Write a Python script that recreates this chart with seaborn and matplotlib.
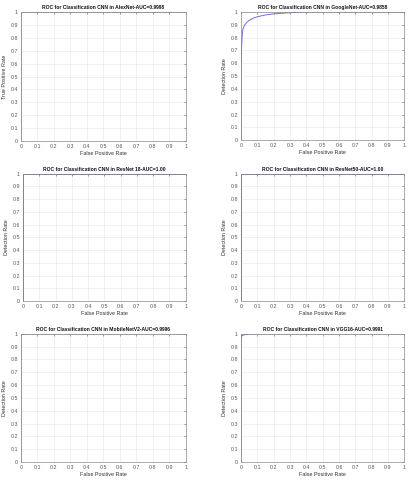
import numpy as np
import pandas as pd
import matplotlib
matplotlib.use("Agg")
import matplotlib.pyplot as plt
import seaborn as sns

models = ["AlexNet", "GoogleNet", "ResNet 18", "ResNet50", "MobileNetV2", "VGG16"]
auc_labels = ["0.9998", "0.9858", "1.00", "1.00", "0.9996", "0.9991"]
ylabels = ["True Positive Rate", "Detection Rate", "Detection Rate",
           "Detection Rate", "Detection Rate", "Detection Rate"]

fpr_alexnet = [0.0, 0.0, 0.002, 1.0]
tpr_alexnet = [0.0, 0.99, 1.0, 1.0]
fpr_googlenet = [0.0, 0.0, 0.003, 0.006, 0.01, 0.02, 0.035, 0.05, 0.08, 0.1, 0.15, 0.2, 0.3, 0.4, 1.0]
tpr_googlenet = [0.0, 0.5, 0.72, 0.8, 0.86, 0.895, 0.92, 0.935, 0.955, 0.963, 0.977, 0.985, 0.995, 1.0, 1.0]
fpr_resnet18 = [0.0, 0.0, 1.0]
tpr_resnet18 = [0.0, 1.0, 1.0]
fpr_resnet50 = [0.0, 0.0, 1.0]
tpr_resnet50 = [0.0, 1.0, 1.0]
fpr_mobilenet = [0.0, 0.0, 0.005, 0.05, 1.0]
tpr_mobilenet = [0.0, 0.985, 0.995, 1.0, 1.0]
fpr_vgg16 = [0.0, 0.0, 0.005, 0.02, 0.06, 1.0]
tpr_vgg16 = [0.0, 0.97, 0.985, 0.993, 1.0, 1.0]

fprs = [fpr_alexnet, fpr_googlenet, fpr_resnet18, fpr_resnet50, fpr_mobilenet, fpr_vgg16]
tprs = [tpr_alexnet, tpr_googlenet, tpr_resnet18, tpr_resnet50, tpr_mobilenet, tpr_vgg16]

ticks = [0, 0.1, 0.2, 0.3, 0.4, 0.5, 0.6, 0.7, 0.8, 0.9, 1]
tick_labels = ["0", "0.1", "0.2", "0.3", "0.4", "0.5", "0.6", "0.7", "0.8", "0.9", "1"]

sns.set_style("whitegrid")
plt.rcParams['font.family'] = ['Liberation Sans', 'DejaVu Sans']

fig = plt.figure(figsize=(4.1, 4.8), dpi=100)
positions = [
    [0.051, 0.706, 0.402, 0.269],
    [0.588, 0.708, 0.398, 0.267],
    [0.056, 0.373, 0.397, 0.265],
    [0.588, 0.373, 0.398, 0.265],
    [0.051, 0.0375, 0.402, 0.267],
    [0.588, 0.0375, 0.398, 0.267],
]
line_color = "#6f6fd6"
for i, m in enumerate(models):
    ax = fig.add_axes(positions[i])
    df = pd.DataFrame({"fpr": fprs[i], "tpr": tprs[i]})
    sns.lineplot(data=df, x="fpr", y="tpr", ax=ax, color=line_color,
                 linewidth=0.7, estimator=None, sort=False)
    ax.set_xlim(0, 1)
    ax.set_ylim(0, 1)
    ax.set_xticks(ticks)
    ax.set_xticklabels(tick_labels)
    ax.set_yticks(ticks)
    ax.set_yticklabels(tick_labels)
    ax.tick_params(labelsize=3.8, length=1.5, width=0.4, direction="in",
                   pad=2.2, colors="#555555", top=True, right=True)
    ax.grid(True, color="#e6e6e6", linewidth=0.4)
    for s in ax.spines.values():
        s.set_color("#8a8a8a")
        s.set_linewidth(0.5)
    ax.set_xlabel("False Positive Rate", fontsize=3.9, labelpad=1.5, color="#333333")
    ax.set_ylabel(ylabels[i], fontsize=3.9, labelpad=2.5, color="#333333")
    ax.set_title(f"ROC for Classification CNN in {m}-AUC={auc_labels[i]}",
                 fontsize=3.6, fontweight="bold", pad=2, color="#111111")

fig.savefig("out.png", dpi=100)
